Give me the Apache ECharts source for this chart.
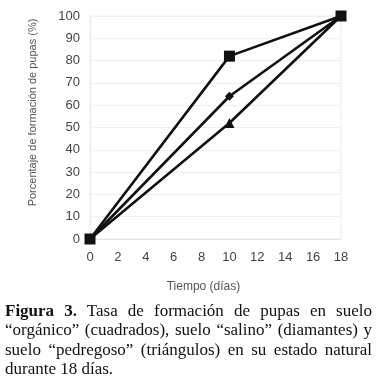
<!DOCTYPE html>
<html><head><meta charset="utf-8">
<script src="https://cdn.jsdelivr.net/npm/echarts@6/dist/echarts.min.js"></script>
<style>
html,body{margin:0;padding:0;background:#fff;}
#c{position:absolute;left:0;top:0;width:376px;height:386px;}
#cap{position:absolute;left:5px;top:301px;width:367px;font-family:"Liberation Serif","Times New Roman",serif;font-size:17px;line-height:19.3px;text-align:justify;color:#111;}
</style></head><body>
<div id="c"></div>
<div id="cap"><b>Figura 3.</b> Tasa de formación de pupas en suelo “orgánico” (cuadrados), suelo “salino” (diamantes) y suelo “pedregoso” (triángulos) en su estado natural durante 18 días.</div>
<script>
const days = [0, 10, 18];
const organico = [0, 82, 100];
const salino = [0, 64, 100];
const pedregoso = [0, 52, 100];
const xName = 'Tiempo (días)';
const yName = 'Porcentaje de formación de pupas (%)';

const toPts = arr => days.map((d, i) => [d, arr[i]]);
const chart = echarts.init(document.getElementById('c'));
const lineStyle = {color: '#111', width: 2.6};
chart.setOption({
  animation: false,
  grid: {left: 90, right: 35, top: 16, bottom: 147, show: true, borderColor: '#ececec', borderWidth: 1},
  xAxis: {
    type: 'value', min: 0, max: 18, interval: 2,
    name: xName, nameLocation: 'middle', nameGap: 42,
    nameTextStyle: {color: '#555', fontSize: 12, fontFamily: 'Liberation Sans', padding: [0, 24, 0, 0]},
    axisLine: {show: true, lineStyle: {color: '#e6e6e6'}},
    axisTick: {show: false},
    axisLabel: {color: '#444', fontSize: 13, margin: 12, fontFamily: 'Liberation Sans'},
    splitLine: {show: false}
  },
  yAxis: {
    type: 'value', min: 0, max: 100, interval: 10,
    name: yName, nameLocation: 'middle', nameGap: 52,
    nameTextStyle: {color: '#555', fontSize: 11, fontFamily: 'Liberation Sans', padding: [0, 0, 0, 30]},
    axisLine: {show: true, lineStyle: {color: '#ececec'}},
    axisTick: {show: false},
    axisLabel: {color: '#444', fontSize: 13, margin: 10, fontFamily: 'Liberation Sans'},
    splitLine: {show: true, lineStyle: {color: '#efefef'}}
  },
  series: [
    {type: 'line', data: toPts(pedregoso), symbol: 'triangle', symbolSize: 10, lineStyle, itemStyle: {color: '#111'}, z: 2},
    {type: 'line', data: toPts(salino), symbol: 'diamond', symbolSize: 9, lineStyle, itemStyle: {color: '#111'}, z: 3},
    {type: 'line', data: toPts(organico), symbol: 'rect', symbolSize: 11, lineStyle, itemStyle: {color: '#111'}, z: 4}
  ]
});
</script>
</body></html>
